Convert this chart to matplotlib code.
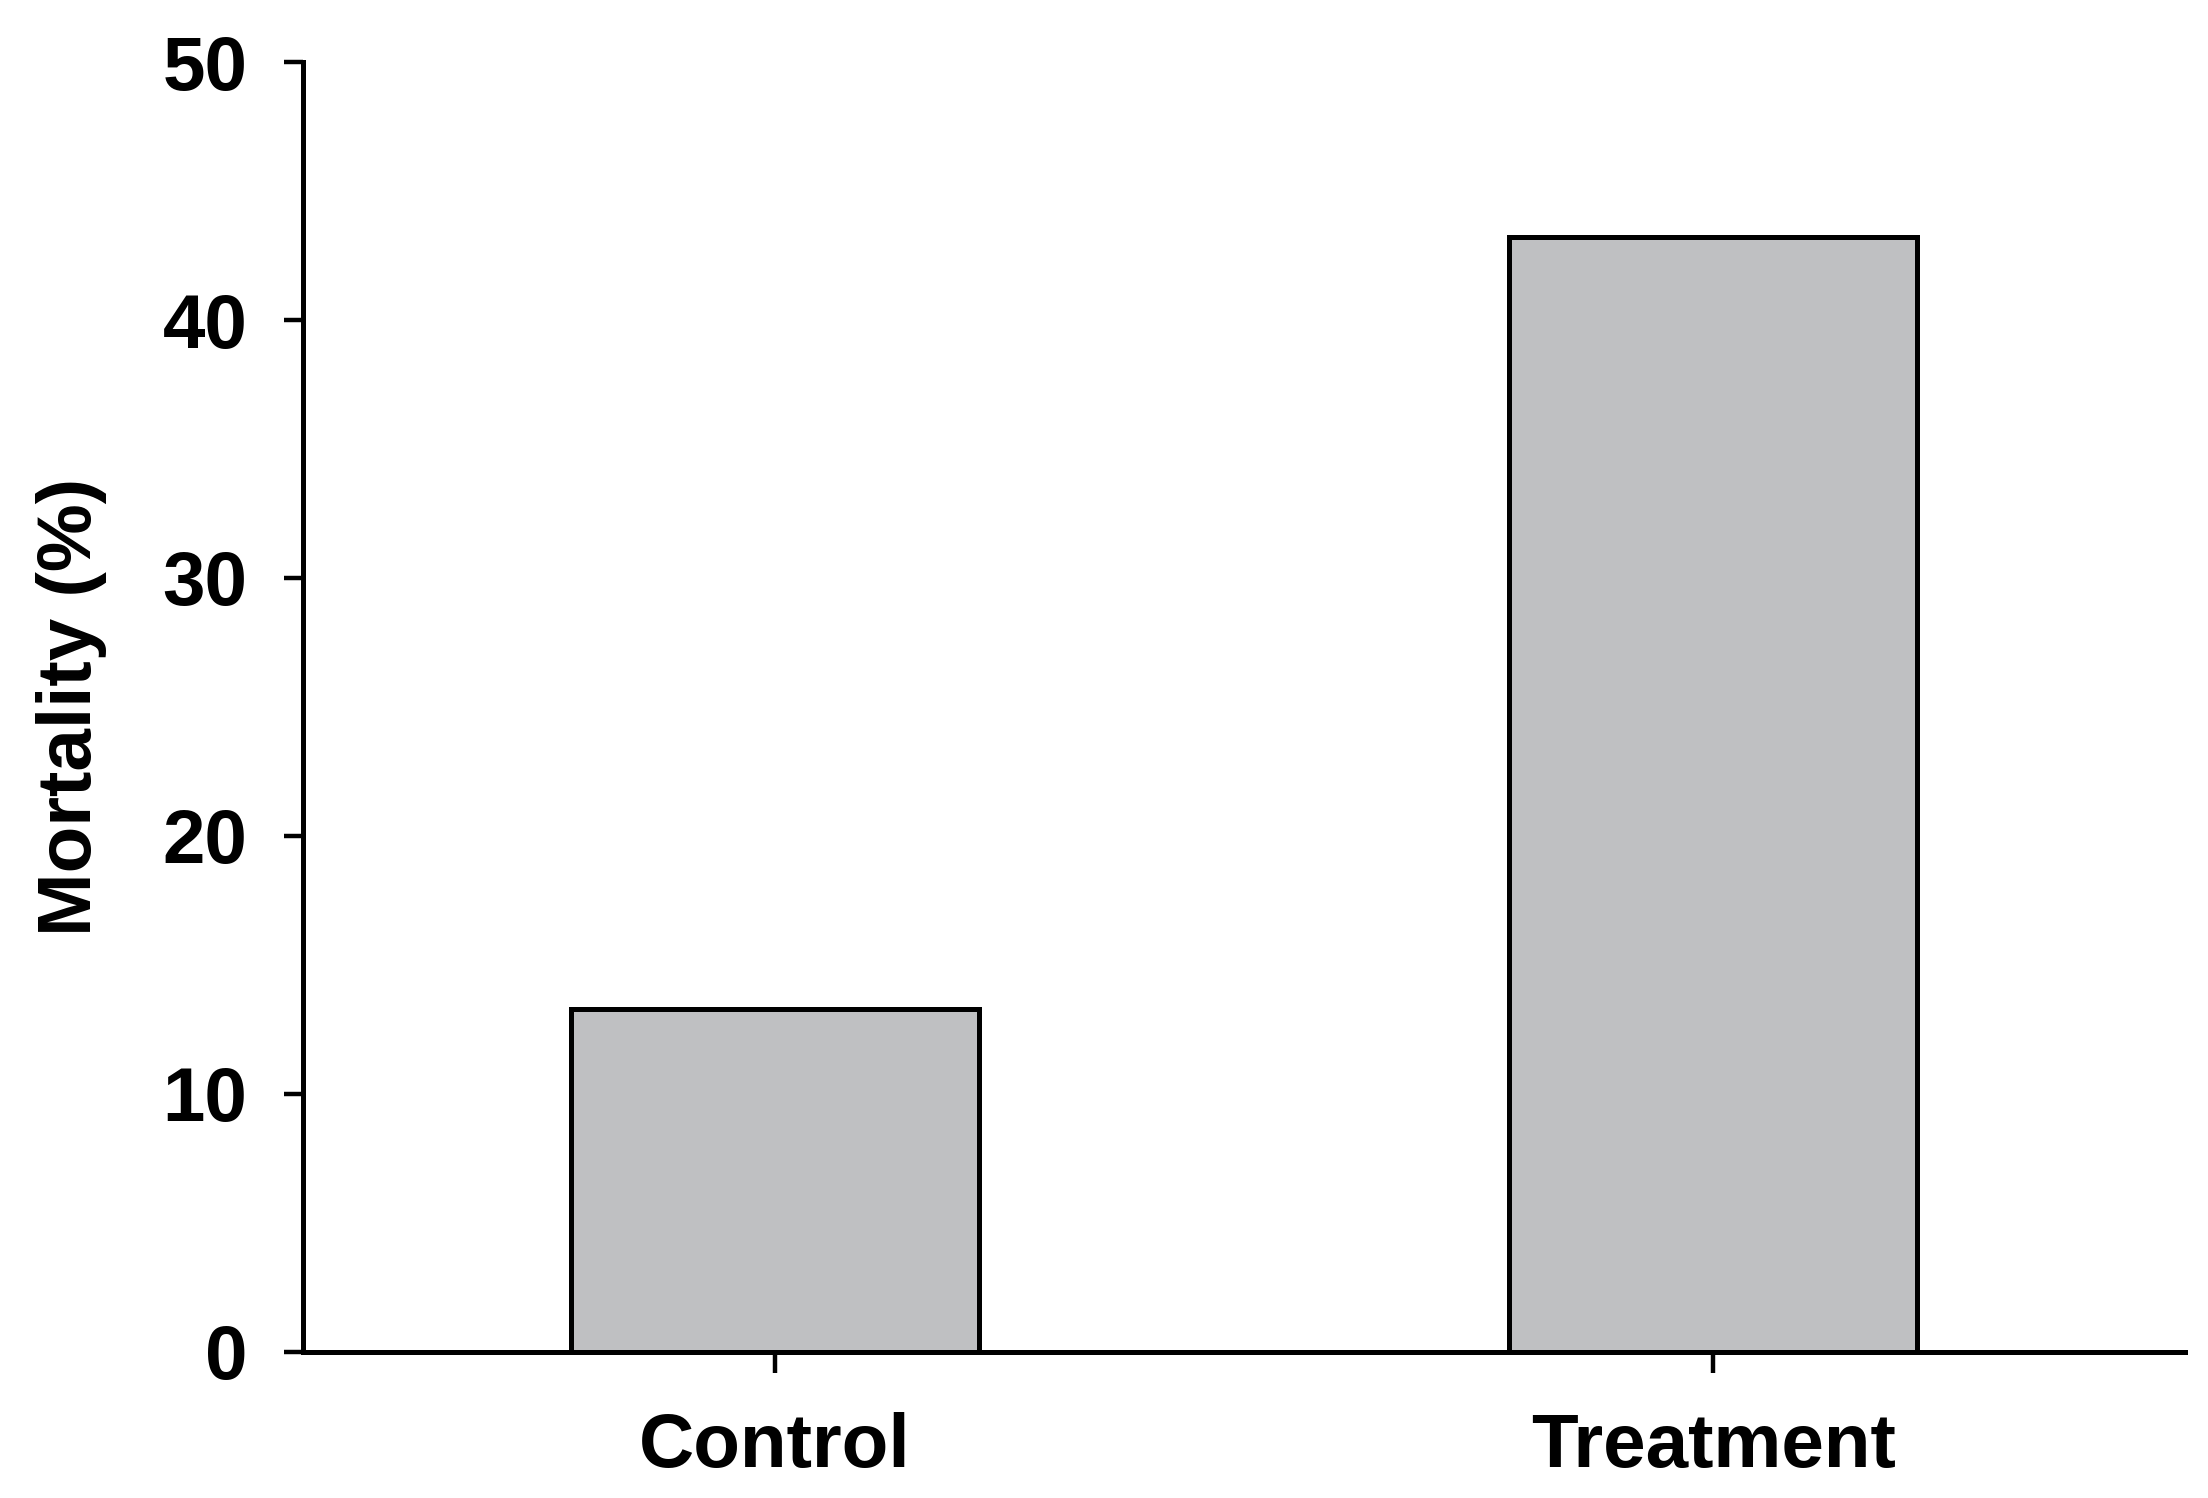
import matplotlib
matplotlib.use('Agg')
import matplotlib.pyplot as plt

# data
groups = ['Control', 'Treatment']
mortality = [13.3, 43.2]
yticks = [0, 10, 20, 30, 40, 50]

plt.rcParams['font.family'] = ['Liberation Sans', 'DejaVu Sans']
plt.rcParams['font.weight'] = 'bold'

fig = plt.figure(figsize=(22.08, 14.98), dpi=100)
ax = fig.add_axes([0.1372, 0.0975, 0.9896 - 0.1372, 0.9586 - 0.0975])

xpos = range(len(groups))
ax.bar(xpos, mortality, width=0.435, color='#bfc0c2', edgecolor='black',
       linewidth=3.6, zorder=2)

ax.set_xlim(-0.503, 1.503)
ax.set_ylim(0, 50)
ax.set_yticks(yticks)
ax.set_xticks(list(xpos))
ax.set_xticklabels(groups)

for side in ['top', 'right']:
    ax.spines[side].set_visible(False)
for side in ['left', 'bottom']:
    ax.spines[side].set_linewidth(3.6)

ax.tick_params(axis='y', length=14, width=3.2, pad=26, labelsize=55)
ax.tick_params(axis='x', length=15, width=3.2, pad=28, labelsize=55)
for lab in ax.get_xticklabels() + ax.get_yticklabels():
    lab.set_fontweight('bold')

ax.set_ylabel('Mortality (%)', fontsize=55, fontweight='bold', labelpad=40)

fig.savefig('out.png', dpi=100)
